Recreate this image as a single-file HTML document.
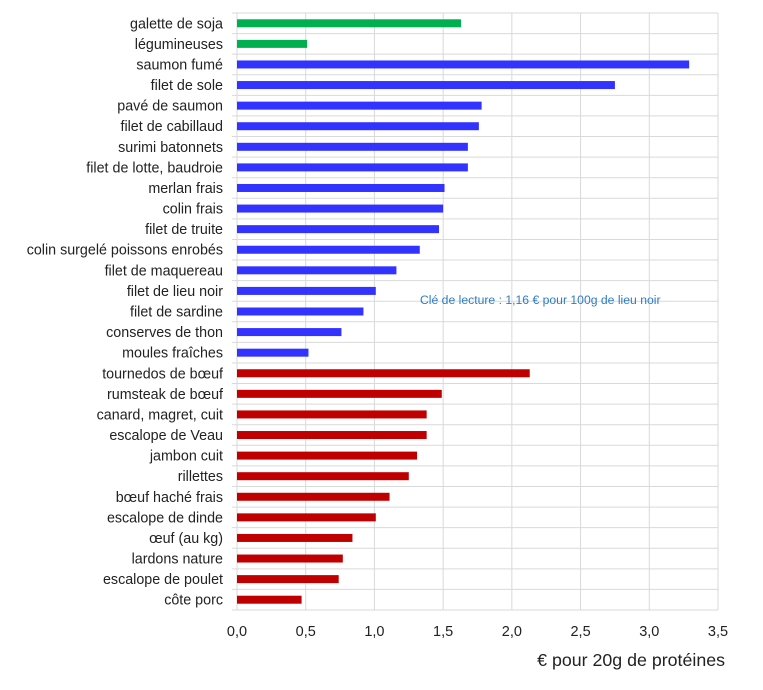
<!DOCTYPE html>
<html><head><meta charset="utf-8"><style>
body{margin:0;background:#fff;width:763px;height:685px;overflow:hidden}
svg text{font-family:"Liberation Sans",sans-serif}
</style></head><body>
<svg id="c" width="763" height="685" xmlns="http://www.w3.org/2000/svg"></svg>
<script>
const categories=["galette de soja","légumineuses","saumon fumé","filet de sole ","pavé de saumon","filet de cabillaud","surimi batonnets","filet de lotte, baudroie","merlan frais","colin frais","filet de truite","colin surgelé poissons enrobés ","filet de maquereau ","filet de lieu noir","filet de sardine","conserves de thon","moules fraîches","tournedos de bœuf","rumsteak de bœuf","canard, magret, cuit","escalope de Veau","jambon cuit ","rillettes","bœuf haché frais","escalope de dinde","œuf (au kg)","lardons nature","escalope de poulet","côte porc"];
const values=[1.63,0.51,3.29,2.75,1.78,1.76,1.68,1.68,1.51,1.50,1.47,1.33,1.16,1.01,0.92,0.76,0.52,2.13,1.49,1.38,1.38,1.31,1.25,1.11,1.01,0.84,0.77,0.74,0.47];
const groups=["veg","veg","fish","fish","fish","fish","fish","fish","fish","fish","fish","fish","fish","fish","fish","fish","fish","meat","meat","meat","meat","meat","meat","meat","meat","meat","meat","meat","meat"];
const tickLabels=["0,0","0,5","1,0","1,5","2,0","2,5","3,0","3,5"];
const tickValues=[0,0.5,1,1.5,2,2.5,3,3.5];
const colors={veg:"#00b050",fish:"#3333ff",meat:"#c00000"};
const NS="http://www.w3.org/2000/svg";
const svg=document.getElementById("c");
const X0=237,X1=718,Y0=13,Y1=610,MAX=3.5;
const x=v=>X0+(v/MAX)*(X1-X0);
const band=(Y1-Y0)/categories.length;
const y=i=>Y0+band*i;
function mk(t,a){const e=document.createElementNS(NS,t);for(const k in a)e.setAttribute(k,a[k]);svg.appendChild(e);return e;}
tickValues.forEach((v,i)=>{
 const l=mk("line",{x1:x(v),x2:x(v),y1:Y0,y2:Y1,stroke:"#d9d9d9","stroke-width":1});
 
 
 const t=mk("text",{x:x(v),y:636,"text-anchor":"middle","font-size":"14.5",fill:"#222"});
 t.textContent=tickLabels[i];
 
 
});
for(let i=0;i<=categories.length;i++){
 const l=mk("line",{x1:232,x2:X1,y1:y(i),y2:y(i),stroke:"#d9d9d9","stroke-width":1});
 
 
}
categories.forEach((c,i)=>{
 const cy=y(i)+band/2;
 const r=mk("rect",{x:X0,y:cy-4,width:x(values[i])-X0,height:8,fill:colors[groups[i]]});
 
 
 const t=mk("text",{x:223,y:cy+5,"text-anchor":"end","font-size":"14.3",fill:"#222"});
 t.textContent=c;
 
 
});
const ann=mk("text",{x:420,y:304,"font-size":"12.2",fill:"#2e7cc4"});
ann.textContent="Clé de lecture : 1,16 € pour 100g de lieu noir";


const at=mk("text",{x:725,y:666,"text-anchor":"end","font-size":"17.8",fill:"#222"});
at.textContent="€ pour 20g de protéines";


</script>
</body></html>
